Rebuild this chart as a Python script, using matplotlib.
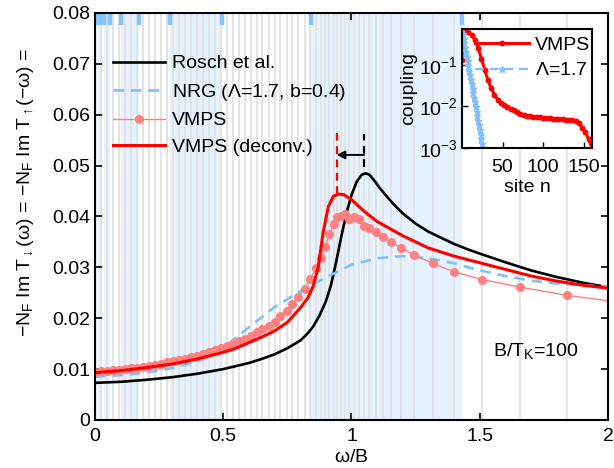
import matplotlib
matplotlib.use("Agg")
import matplotlib.pyplot as plt

plt.rcParams['font.family'] = ['Liberation Sans', 'DejaVu Sans']
plt.rcParams['mathtext.fontset'] = 'custom'
plt.rcParams['mathtext.rm'] = 'Liberation Sans'
plt.rcParams['mathtext.it'] = 'Liberation Sans'
plt.rcParams['mathtext.bf'] = 'Liberation Sans:bold'
plt.rcParams['font.size'] = 14
plt.rcParams['xtick.direction'] = 'in'
plt.rcParams['ytick.direction'] = 'in'

# --- main panel data (omega/B, -N_F Im T) ---
rosch_w = [0.0, 0.1, 0.2, 0.3, 0.4, 0.5, 0.6, 0.65, 0.7, 0.75, 0.8, 0.825,
           0.85, 0.875, 0.9, 0.92, 0.94, 0.96, 0.98, 1.0, 1.02, 1.04, 1.055,
           1.07, 1.09, 1.11, 1.14, 1.17, 1.2, 1.25, 1.3, 1.35, 1.4, 1.45, 1.5,
           1.6, 1.7, 1.8, 1.9, 2.0]
rosch_a = [0.0073, 0.0075, 0.0079, 0.0084, 0.0091, 0.0100, 0.0112, 0.0120,
           0.0129, 0.0141, 0.0156, 0.0168, 0.0183, 0.0205, 0.0233, 0.0265,
           0.0310, 0.0360, 0.0406, 0.0442, 0.0468, 0.0482, 0.0485, 0.0482,
           0.0470, 0.0456, 0.0438, 0.0421, 0.0406, 0.0386, 0.0370, 0.0358,
           0.0346, 0.0336, 0.0327, 0.0310, 0.0294, 0.0281, 0.0270, 0.0261]

nrg_w = [0.0, 0.1, 0.2, 0.3, 0.4, 0.45, 0.5, 0.6, 0.7, 0.8, 0.9, 1.0, 1.1,
         1.2, 1.3, 1.4, 1.5, 1.6, 1.7, 1.8, 1.9, 2.0]
nrg_a = [0.0085, 0.0088, 0.0093, 0.0102, 0.0115, 0.0125, 0.0142, 0.0182,
         0.0222, 0.0253, 0.0280, 0.0305, 0.0318, 0.0322, 0.0318, 0.0308,
         0.0294, 0.0283, 0.0274, 0.0268, 0.0265, 0.0262]

vmps_w = [0.000, 0.023, 0.047, 0.070, 0.093, 0.117, 0.140, 0.163, 0.187,
          0.210, 0.233, 0.257, 0.280, 0.303, 0.327, 0.350, 0.373, 0.397,
          0.420, 0.443, 0.467, 0.490, 0.513, 0.537, 0.560, 0.583, 0.607,
          0.630, 0.653, 0.677, 0.700, 0.723, 0.747, 0.770, 0.793, 0.817,
          0.840, 0.863, 0.880, 0.897, 0.914, 0.930, 0.944, 0.960, 0.976,
          0.992, 1.009, 1.028, 1.048, 1.070, 1.096, 1.122, 1.154, 1.193,
          1.245, 1.316, 1.401, 1.510, 1.658, 1.840, 2.050]
vmps_a = [0.0095, 0.0096, 0.0097, 0.0098, 0.0099, 0.0100, 0.0102, 0.0103,
          0.0105, 0.0107, 0.0109, 0.0111, 0.0113, 0.0115, 0.0118, 0.0120,
          0.0123, 0.0126, 0.0129, 0.0133, 0.0137, 0.0141, 0.0145, 0.0150,
          0.0155, 0.0160, 0.0166, 0.0172, 0.0178, 0.0185, 0.0192, 0.0205,
          0.0215, 0.0228, 0.0242, 0.0258, 0.0278, 0.0298, 0.0318, 0.0340,
          0.0365, 0.0385, 0.0398, 0.0400, 0.0405, 0.0395, 0.0398, 0.0395,
          0.0382, 0.0377, 0.0370, 0.0360, 0.0349, 0.0339, 0.0324, 0.0308,
          0.0291, 0.0276, 0.0261, 0.0245, 0.0231]

deconv_w = [0.0, 0.1, 0.2, 0.3, 0.4, 0.5, 0.55, 0.6, 0.65, 0.7, 0.75, 0.8,
            0.83, 0.85, 0.87, 0.89, 0.91, 0.93, 0.95, 0.97, 1.0, 1.05, 1.1,
            1.2, 1.3, 1.4, 1.5, 1.6, 1.7, 1.8, 1.9, 2.0]
deconv_a = [0.0093, 0.0097, 0.0103, 0.0110, 0.0120, 0.0133, 0.0141, 0.0152,
            0.0163, 0.0175, 0.0192, 0.0220, 0.0240, 0.0262, 0.0300, 0.0370,
            0.0420, 0.0440, 0.0444, 0.0443, 0.0433, 0.0410, 0.0390, 0.0362,
            0.0338, 0.0322, 0.0309, 0.0296, 0.0283, 0.0273, 0.0265, 0.0259]

# NRG shell boundaries (Lambda = 1.7)
shell_w = [1.43, 0.842, 0.495, 0.291, 0.171, 0.101, 0.059, 0.035, 0.0205,
           0.012, 0.007, 0.0041, 0.0024, 0.0014]

peak_vmps = 0.942
peak_rosch = 1.049

# --- inset data (coupling vs site) ---
vmps_n = [0, 1, 4, 8, 12, 16, 20, 24, 28, 32, 36, 40, 44, 48, 52, 56, 60, 64,
          68, 72, 76, 80, 84, 88, 92, 96, 100, 104, 108, 112, 116, 120, 124,
          128, 132, 136, 140, 144, 148, 152, 156, 160]
vmps_t = [0.13, 0.70, 0.66, 0.60, 0.52, 0.40, 0.25, 0.14, 0.075, 0.042, 0.027,
          0.019, 0.0145, 0.012, 0.0105, 0.0095, 0.0087, 0.0080, 0.0073, 0.0067,
          0.0063, 0.0060, 0.0058, 0.0056, 0.0055, 0.0054, 0.0053, 0.0052,
          0.0052, 0.0051, 0.0050, 0.0050, 0.0049, 0.0048, 0.0047, 0.0046,
          0.0044, 0.0040, 0.0031, 0.0024, 0.0016, 0.0010]
wilson_n = list(range(28))
wilson_t = [0.70, 0.544, 0.423, 0.328, 0.255, 0.198, 0.154, 0.120, 0.093,
            0.072, 0.056, 0.044, 0.034, 0.026, 0.0205, 0.0159, 0.0124, 0.0096,
            0.0075, 0.0058, 0.0045, 0.0035, 0.0027, 0.0021, 0.0016, 0.00128,
            0.0010, 0.00077]

c_nrg = '#80bfff'
c_pink = '#ff8080'
c_red = '#ff0000'

fig = plt.figure(figsize=(6.14, 4.68), dpi=100)
ax = fig.add_axes([0.1547, 0.1026, 0.8355, 0.8697])

# background: shaded NRG shells, VMPS frequency grid, shell marks
for i in range(0, len(shell_w) - 1, 2):
    ax.axvspan(shell_w[i + 1], shell_w[i], color='#e6f2ff', lw=0, zorder=0)
ax.vlines(vmps_w, 0, 0.08, colors='#e2e2e2', lw=1.3, zorder=1)
ax.vlines(shell_w, 0.0776, 0.08, colors='#88c4fc', lw=3.2, zorder=2)

ax.plot(rosch_w, rosch_a, color='k', lw=1.9, label='Rosch et al.', zorder=4)
ax.plot(nrg_w, nrg_a, color=c_nrg, lw=1.9, ls=(0, (4, 2.6)),
        label=r'NRG ($\Lambda$=1.7, b=0.4)', zorder=4)
ax.plot(vmps_w, vmps_a, color=c_pink, lw=1.0, marker='o', ms=5.5,
        mec=c_pink, mfc=c_pink, label='VMPS', zorder=5)
ax.plot(deconv_w, deconv_a, color=c_red, lw=2.2, label='VMPS (deconv.)',
        zorder=6)

# peak markers and shift arrow
ax.plot([peak_vmps, peak_vmps], [0.0445, 0.0565], color=c_red, lw=1.6,
        ls=(0, (3.5, 2.5)), zorder=6)
ax.plot([peak_rosch, peak_rosch], [0.0497, 0.0562], color='k', lw=1.6,
        ls=(0, (3.5, 2.5)), zorder=6)
ax.annotate('', xy=(peak_vmps, 0.0521), xytext=(peak_rosch, 0.0521),
            arrowprops=dict(arrowstyle='-|>', color='k', lw=1.4,
                            mutation_scale=12, shrinkA=0, shrinkB=0),
            zorder=7)

ax.text(1.55, 0.0125, r'B/T$_{\rm K}$=100', ha='left', va='baseline',
        fontsize=14)

ax.set_xlim(0, 2)
ax.set_ylim(0, 0.08)
ax.set_xticks([0, 0.5, 1, 1.5, 2])
ax.set_xticklabels(['0', '0.5', '1', '1.5', '2'])
ax.set_yticks([0, 0.01, 0.02, 0.03, 0.04, 0.05, 0.06, 0.07, 0.08])
ax.set_yticklabels(['0', '0.01', '0.02', '0.03', '0.04', '0.05', '0.06',
                    '0.07', '0.08'])
ax.tick_params(top=True, right=True, length=5, width=1.2, labelsize=14)
ax.tick_params(axis='x', pad=5.5)
for s in ax.spines.values():
    s.set_linewidth(1.5)
    s.set_zorder(10)
ax.set_xlabel(r'$\omega$/B', fontsize=14, labelpad=3)
ax.set_ylabel(r'$-N_F$ Im $T_{\downarrow}(\omega)$ = $-N_F$ Im $T_{\uparrow}(-\omega)$ =',
              fontsize=14)
ax.yaxis.set_label_coords(-0.115, 0.56)

ax.legend(loc='upper left', bbox_to_anchor=(0.035, 0.897), frameon=False,
          handlelength=2.7, handletextpad=0.35, labelspacing=0.47,
          borderaxespad=0, borderpad=0, fontsize=14)

# --- inset ---
ins = fig.add_axes([0.7524, 0.6838, 0.2117, 0.2543])
ins.set_facecolor('white')
ins.semilogy(vmps_n, vmps_t, color=c_red, lw=2.2, marker='o', ms=3.2,
             mec=c_red, mfc=c_red, label='VMPS')
ins.semilogy(wilson_n, wilson_t, color=c_nrg, lw=1.6, ls=(0, (4, 2.6)),
             marker='*', ms=5, mec=c_nrg, mfc=c_nrg,
             label=r'$\Lambda$=1.7')
ins.set_xlim(0, 160)
ins.set_ylim(1e-3, 0.72)
ins.set_xticks([50, 100, 150])
ins.set_yticks([1e-3, 1e-2, 1e-1])
ins.minorticks_off()
ins.tick_params(axis='y', length=4, width=1.0, labelsize=14, pad=3)
ins.tick_params(axis='x', length=4, width=1.0, labelsize=14, pad=8)
for s in ins.spines.values():
    s.set_linewidth(1.5)
ins.set_xlabel('site n', fontsize=14, labelpad=2)
ins.set_ylabel('coupling', fontsize=14, labelpad=1)
ins.legend(loc='upper left', bbox_to_anchor=(0.1, 0.94), frameon=False,
           handlelength=2.8, handletextpad=0.3, labelspacing=0.42,
           borderaxespad=0, borderpad=0, fontsize=14)

fig.savefig('out.png', dpi=100)
